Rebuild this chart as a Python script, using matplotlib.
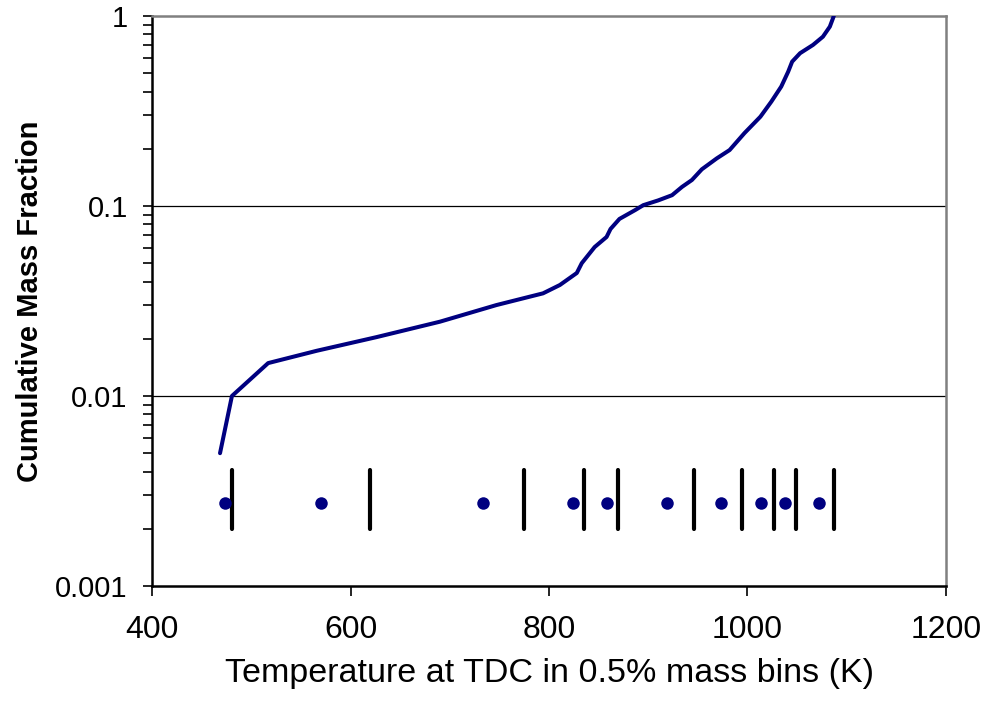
import numpy as np
import matplotlib
matplotlib.use("Agg")
import matplotlib.pyplot as plt
from matplotlib.ticker import LogLocator, FixedLocator, NullFormatter

plt.rcParams['font.family'] = ['Liberation Sans', 'DejaVu Sans']

# cumulative mass fraction curve
curve_T = [468.5, 480.5, 517, 566, 626, 690, 747, 794, 811, 828, 833,
           846, 858, 862, 871, 887, 895, 910, 924, 934, 944, 954, 969,
           982, 997, 1013, 1024, 1034, 1041, 1045, 1053, 1066, 1076,
           1083, 1087]
curve_frac = [0.005, 0.010, 0.0149, 0.0173, 0.0204, 0.0246, 0.0301, 0.0347,
              0.0384, 0.0444, 0.050, 0.0608, 0.0687, 0.0757, 0.0855, 0.0953,
              0.101, 0.107, 0.114, 0.126, 0.137, 0.156, 0.178, 0.197, 0.242,
              0.295, 0.354, 0.425, 0.509, 0.575, 0.637, 0.704, 0.778, 0.879,
              1.0]

# bin boundaries (vertical bars) and bin centres (dots)
bin_edges = [480.6, 619.6, 774.8, 835.3, 869.5, 946.1, 994.5, 1026.7,
             1048.9, 1087.2]
bin_centres = [473.6, 570.3, 733.5, 824.2, 858.4, 918.9, 973.3, 1013.6,
               1037.8, 1072.0]
bar_low, bar_high = 0.002, 0.0041
dot_level = 0.00272

navy = '#000080'

fig = plt.figure(figsize=(9.86, 7.04), dpi=100)
ax = fig.add_axes([0.1542, 0.1676, 0.8052, 0.8097])

ax.set_yscale('log')
ax.set_xlim(400, 1200)
ax.set_ylim(0.001, 1)

# gridlines at 0.01 and 0.1
for g in (0.01, 0.1):
    ax.axhline(g, color='black', lw=0.9, zorder=1)

ax.plot(curve_T, curve_frac, color=navy, lw=2.9, solid_capstyle='round',
        solid_joinstyle='round', zorder=3)

ax.vlines(bin_edges, bar_low, bar_high, color='black', lw=3.0,
          capstyle='round', zorder=3)
ax.plot(bin_centres, [dot_level] * len(bin_centres), 'o', color=navy,
        markersize=9, markeredgewidth=0, zorder=4)

ax.xaxis.set_major_locator(FixedLocator([400, 600, 800, 1000, 1200]))
ax.yaxis.set_major_locator(FixedLocator([0.001, 0.01, 0.1, 1]))
ax.yaxis.set_minor_locator(LogLocator(base=10, subs=np.arange(2, 10)))
ax.yaxis.set_minor_formatter(NullFormatter())
ax.set_yticklabels(['0.001', '0.01', '0.1', '1'])

ax.tick_params(axis='x', which='major', direction='out', length=7, width=1.2,
               labelsize=23, pad=14)
ax.tick_params(axis='y', which='both', direction='out', length=6.5, width=1.2,
               labelsize=21, pad=11)

for side in ('left', 'bottom'):
    ax.spines[side].set_color('black')
    ax.spines[side].set_linewidth(1.8)
for side in ('top', 'right'):
    ax.spines[side].set_color('#808080')
    ax.spines[side].set_linewidth(1.8)

ax.set_xlabel('Temperature at TDC in 0.5% mass bins (K)', fontsize=24.5,
              labelpad=9)
ax.set_ylabel('Cumulative Mass Fraction', fontsize=21, fontweight='bold',
              labelpad=8)

fig.savefig('out.png', dpi=100)
